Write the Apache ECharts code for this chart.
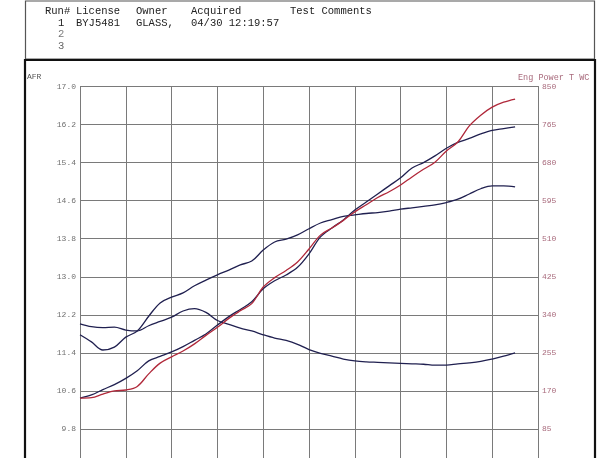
<!DOCTYPE html>
<html>
<head>
<meta charset="utf-8">
<script src="https://cdn.jsdelivr.net/npm/echarts@6/dist/echarts.min.js"></script>
<style>
html,body{margin:0;padding:0;background:#fff;overflow:hidden;width:610px;height:458px;}
#chart{width:610px;height:520px;}
</style>
</head>
<body>
<div id="chart"></div>
<script>
// x positions (grid divisions)
const xPos = [0,0.25,0.5,0.75,1,1.25,1.5,1.75,2,2.25,2.5,2.75,3,3.25,3.5,3.75,4,4.25,4.5,4.75,5,5.25,5.5,5.75,6,6.25,6.5,6.75,7,7.25,7.5,7.75,8,8.25,8.5,8.75,9,9.25,9.5];
// AFR curves (left axis)
const afrRun1 = [12.01,11.95,11.93,11.94,11.88,11.86,11.97,12.06,12.15,12.28,12.33,12.25,12.08,12.00,11.92,11.86,11.78,11.71,11.66,11.58,11.47,11.39,11.33,11.27,11.23,11.21,11.20,11.19,11.18,11.17,11.16,11.14,11.14,11.17,11.19,11.22,11.27,11.33,11.40];
const afrRun2 = [11.78,11.63,11.46,11.52,11.73,11.86,12.17,12.45,12.57,12.66,12.81,12.93,13.04,13.14,13.25,13.33,13.56,13.73,13.79,13.88,14.01,14.13,14.20,14.27,14.30,14.33,14.35,14.38,14.42,14.45,14.48,14.51,14.56,14.63,14.74,14.85,14.91,14.91,14.89];
// Power curves (right axis)
const powerRed = [154,155,163,170,172,180,208,232,246,259,275,294,312,332,349,365,402,423,439,458,487,518,534,551,570,586,602,615,630,648,665,681,706,726,762,786,804,815,822];
const powerNavy = [154,161,173,184,198,215,237,247,257,269,283,297,317,336,352,369,398,416,429,446,476,514,534,552,574,592,610,628,646,668,680,695,712,725,734,744,752,756,760];

const leftTicks = {min: 9.0, max: 17.0, step: 0.8};
const rightTicks = {min: 0, max: 850, step: 85};

const headerCols = ['Run#','License','Owner','Acquired','Test Comments'];
const headerRow1 = ['1','BYJ5481','GLASS,','04/30 12:19:57'];
const headerRuns = ['2','3'];
const leftAxisTitle = 'AFR';
const rightAxisTitle = 'Eng Power T WC';

const NAVY = '#202050';
const RED = '#b0283a';
const MONO = '"Liberation Mono","DejaVu Sans Mono",monospace';

function pairs(ys){ return xPos.map((x,i)=>[x,ys[i]]); }

const chart = echarts.init(document.getElementById('chart'), null, {renderer:'canvas'});
const hdrStyle = (t,x,y,fill)=>({type:'text', left:x, top:y, style:{text:t, font:'10.5px '+MONO, fill:fill||'#222'}});
const lineSeries = (ys, axis, color)=>({type:'line', yAxisIndex:axis, data:pairs(ys), showSymbol:false, smooth:0.35, lineStyle:{color:color, width:1.3}});

chart.setOption({
  animation:false,
  backgroundColor:'#fff',
  grid:{left:80, right:72, top:86.5, bottom:53, containLabel:false},
  xAxis:{type:'value', min:0, max:10, interval:1,
    axisLine:{show:false}, axisTick:{show:false}, axisLabel:{show:false},
    splitLine:{show:true, lineStyle:{color:'#7a7a7a', width:1}}},
  yAxis:[
    {type:'value', min:leftTicks.min, max:leftTicks.max, interval:leftTicks.step, position:'left',
     axisLine:{show:true, lineStyle:{color:'#7a7a7a', width:1}}, axisTick:{show:false},
     axisLabel:{margin:4, color:'#707070', fontFamily:MONO, fontSize:8, formatter:v=>v.toFixed(1)},
     splitLine:{show:true, lineStyle:{color:'#7a7a7a', width:1}}},
    {type:'value', min:rightTicks.min, max:rightTicks.max, interval:rightTicks.step, position:'right',
     axisLine:{show:true, lineStyle:{color:'#7a7a7a', width:1}}, axisTick:{show:false},
     axisLabel:{margin:4, color:'#a86a7c', fontFamily:MONO, fontSize:8, formatter:v=>String(Math.round(v))},
     splitLine:{show:false}}
  ],
  series:[
    lineSeries(afrRun1, 0, NAVY),
    lineSeries(afrRun2, 0, NAVY),
    lineSeries(powerNavy, 1, NAVY),
    lineSeries(powerRed, 1, RED)
  ],
  graphic:[
    {type:'rect', shape:{x:25.5, y:1, width:569, height:58}, style:{fill:'none', stroke:'#555', lineWidth:1.2}},
    {type:'rect', shape:{x:25, y:60, width:570, height:500}, style:{fill:'none', stroke:'#111', lineWidth:2.2}},
    hdrStyle(headerCols[0],45,6), hdrStyle(headerCols[1],76,6), hdrStyle(headerCols[2],136,6), hdrStyle(headerCols[3],191,6), hdrStyle(headerCols[4],290,6),
    hdrStyle(headerRow1[0],58,18), hdrStyle(headerRow1[1],76,18), hdrStyle(headerRow1[2],136,18), hdrStyle(headerRow1[3],191,18),
    hdrStyle(headerRuns[0],58,29,'#777'), hdrStyle(headerRuns[1],58,41,'#666'),
    {type:'text', left:27, top:73, style:{text:leftAxisTitle, font:'8px '+MONO, fill:'#555'}},
    {type:'text', left:518, top:73, style:{text:rightAxisTitle, font:'8.5px '+MONO, fill:'#a86a7c'}}
  ]
});
</script>
</body>
</html>
